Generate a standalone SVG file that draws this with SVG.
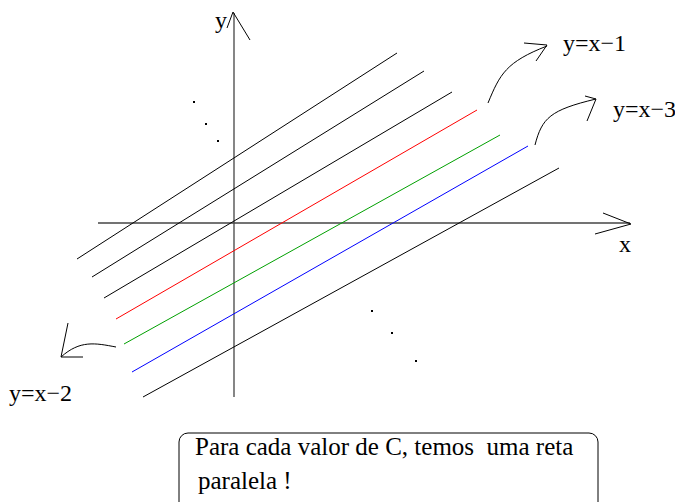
<svg xmlns="http://www.w3.org/2000/svg" width="675" height="502" viewBox="0 0 675 502">
<style>
.ax{stroke:#444;stroke-width:1.3;fill:none}
.ln{stroke-width:1;fill:none}
.ar{stroke:#000;stroke-width:1;fill:none}
.t{font-family:"Liberation Serif","Times New Roman",serif;font-size:24px;fill:#000}
.bt{font-family:"Liberation Serif","Times New Roman",serif;font-size:25px;fill:#000}
.dot{fill:#000}
</style>
<rect width="675" height="502" fill="#fff"/>
<g id="axes">
<line class="ax" x1="234" y1="13" x2="234" y2="397"/>
<polyline class="ar" points="227,28 233,12 250,40"/>
<line class="ax" x1="98" y1="223" x2="630" y2="223"/>
<polyline class="ar" points="603,213 631,224 595,234"/>
<text class="t" x="215" y="28">y</text>
<text class="t" x="619" y="252">x</text>
</g>
<g id="lines">
<line class="ln" stroke="#000" x1="77" y1="259" x2="397" y2="53"/>
<line class="ln" stroke="#000" x1="92" y1="277" x2="424" y2="71"/>
<line class="ln" stroke="#000" x1="104" y1="298" x2="452" y2="92"/>
<line class="ln" stroke="#ff0000" x1="116" y1="319" x2="477" y2="110"/>
<line class="ln" stroke="#00a000" x1="124" y1="344" x2="500" y2="135"/>
<line class="ln" stroke="#0000ff" x1="132" y1="372" x2="528" y2="146"/>
<line class="ln" stroke="#000" x1="143" y1="397" x2="559" y2="168"/>
</g>
<g id="dots">
<rect class="dot" x="193" y="101" width="2" height="2"/>
<rect class="dot" x="205" y="123" width="2" height="2"/>
<rect class="dot" x="217" y="140" width="2" height="2"/>
<rect class="dot" x="371" y="310" width="2" height="2"/>
<rect class="dot" x="391" y="332" width="2" height="2"/>
<rect class="dot" x="415" y="360" width="2" height="2"/>
</g>
<g id="label-x1">
<path class="ar" d="M488,103 C500,74 506,62 547,46"/>
<polyline class="ar" points="524,43 547,45 536,61"/>
<text class="t" x="563" y="51">y=x−1</text>
</g>
<g id="label-x3">
<path class="ar" d="M535,145 C542,118 550,110 596,99"/>
<polyline class="ar" points="585,96 596,99 587,121"/>
<text class="t" x="613" y="117" font-size="25">y=x−3</text>
</g>
<g id="label-x2">
<path class="ar" d="M116,347 C95,343 80,340 61,357"/>
<polyline class="ar" points="68,323 61,357 83,357"/>
<text class="t" x="9" y="401">y=x−2</text>
</g>
<g id="note">
<rect x="179" y="433" width="419" height="90" rx="9" ry="9" fill="#fff" stroke="#000" stroke-width="1"/>
<text class="bt" x="195" y="455" xml:space="preserve">Para cada valor de C, temos  uma reta</text>
<text class="bt" x="198" y="489">paralela !</text>
</g>
</svg>
